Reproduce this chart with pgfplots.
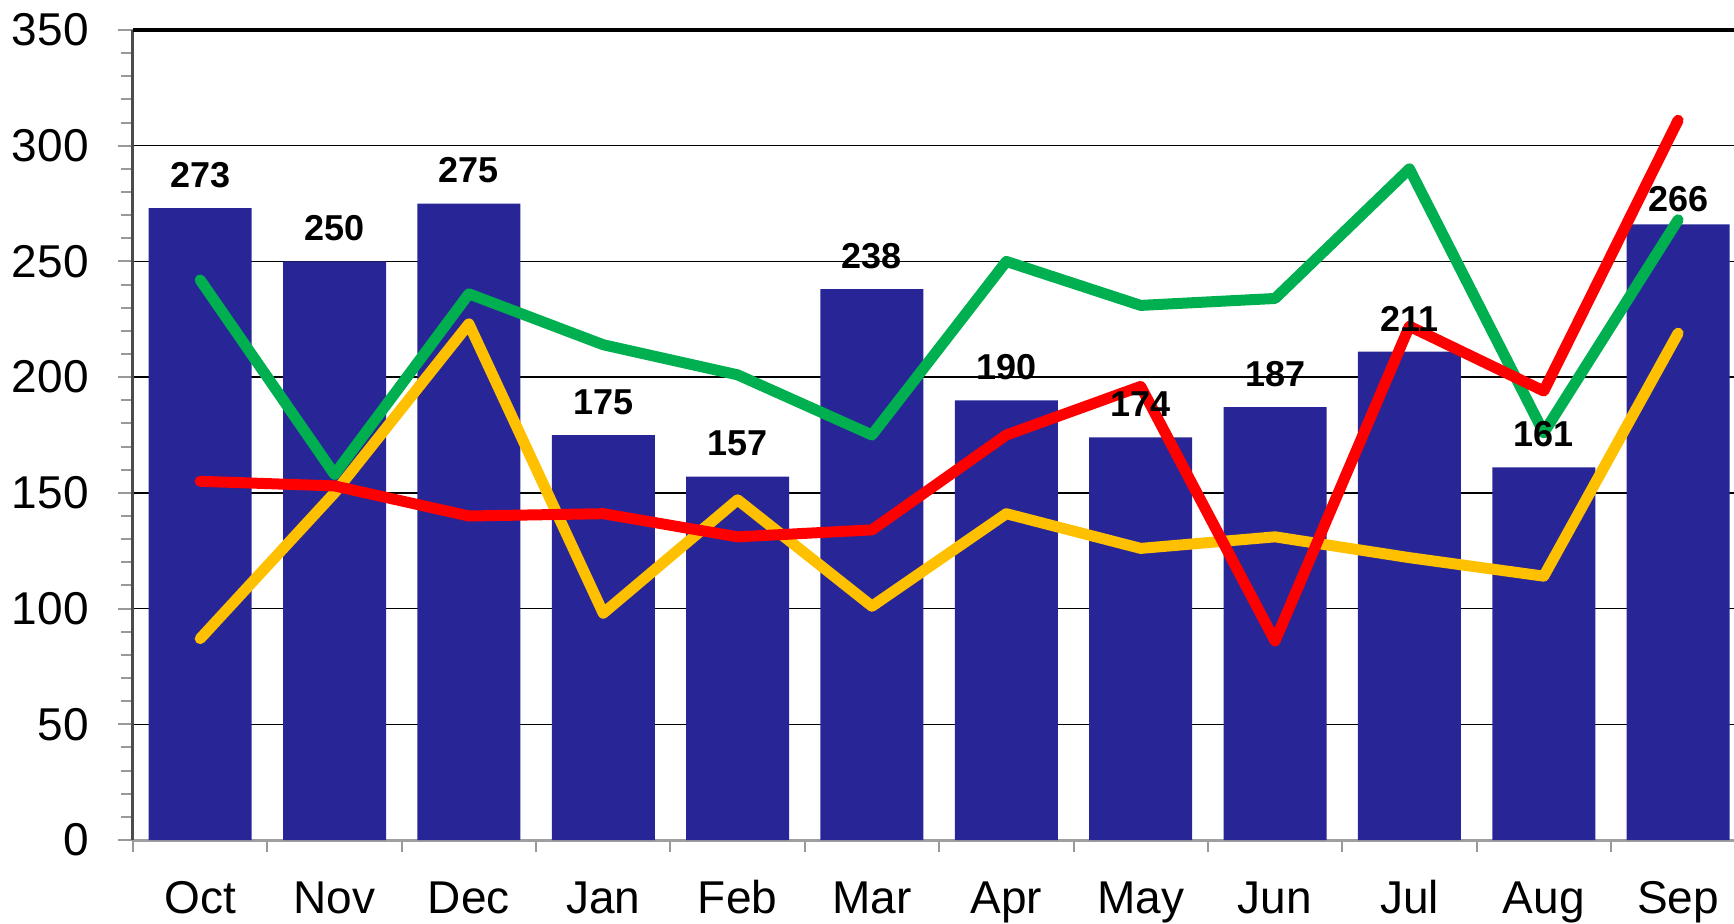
\documentclass[border=0pt]{standalone}
\usepackage{pgfplots}
\usepackage{pgfplotstable}
\pgfplotsset{compat=1.18}
\usepackage{fontspec}
\setmainfont{Liberation Sans}
\definecolor{barblue}{RGB}{40,38,150}
\definecolor{lgreen}{RGB}{0,176,80}
\definecolor{lred}{RGB}{255,0,0}
\definecolor{lyellow}{RGB}{255,192,0}
\pgfplotstableread{
x bars green red yellow
0 273 242 155 87
1 250 158 153 150
2 275 236 140 223
3 175 214 141 98
4 157 201 131 147
5 238 175 134 101
6 190 250 175 141
7 174 231 196 126
8 187 234 86 131
9 211 290 222 122
10 161 176 194 114
11 266 268 311 219
}\datatable
\pgfplotstableread{
x bars
0 273
1 250
2 275
3 175
4 157
5 238
6 190
7 174
8 187
9 211
10 161
}\labelsmain
\pgfplotstableread{
x bars
11 266
}\labelslast
\begin{document}
\begin{tikzpicture}
\begin{axis}[
  name=ax,
  at={(0,0)}, anchor=south west,
  scale only axis,
  width=800.5pt, height=405pt,
  xmin=-0.5, xmax=11.416,
  ymin=0, ymax=350,
  ytick={0,50,...,350},
  minor y tick num=4,
  xtick={0,...,11},
  xticklabels={Oct,Nov,Dec,Jan,Feb,Mar,Apr,May,Jun,Jul,Aug,Sep},
  minor xtick={-0.5,0.5,...,10.5},
  axis x line*=bottom, axis y line*=left,
  x axis line style={-, draw=gray!75, line width=1.5pt},
  y axis line style={-, draw=black!70, line width=1.5pt},
  tick align=outside,
  major tick length=7.5pt, minor tick length=6pt,
  tick style={draw=gray!80, line width=1pt},
  every major x tick/.append style={draw=none},
  ymajorgrids,
  major grid style={black, line width=0.7pt},
  yticklabel style={font=\fontsize{23}{23}\selectfont, anchor=east, inner sep=0pt, xshift=-14.5pt},
  xticklabel style={font=\fontsize{23}{23}\selectfont, anchor=base, inner sep=0pt, yshift=-29pt},
  /pgf/number format/assume math mode=true,
  clip=false,
]
\addplot[ybar, bar width=51.5pt, fill=barblue, draw=none] table[x=x, y=bars] {\datatable};
\addplot[lgreen, line width=5.5pt, line cap=round, line join=round, mark=none] table[x=x, y=green] {\datatable};
\addplot[lyellow, line width=5.5pt, line cap=round, line join=round, mark=none] table[x=x, y=yellow] {\datatable};
\addplot[lred, line width=5.5pt, line cap=round, line join=round, mark=none] table[x=x, y=red] {\datatable};
\addplot[draw=none, mark=none, nodes near coords,
  nodes near coords style={font=\bfseries\fontsize{18}{18}\selectfont, anchor=south, inner sep=0pt, yshift=10pt, text=black}]
  table[x=x, y=bars] {\labelsmain};
\addplot[draw=none, mark=none, nodes near coords,
  nodes near coords style={font=\bfseries\fontsize{18}{18}\selectfont, anchor=south, inner sep=0pt, yshift=6pt, text=black}]
  table[x=x, y=bars] {\labelslast};
\draw[black, line width=2.1pt] (rel axis cs:0,1) -- (rel axis cs:1,1);
\end{axis}
\pgfresetboundingbox
\path[use as bounding box] (-66.5pt,-41.5pt) rectangle (800.5pt,420pt);
\end{tikzpicture}
\end{document}
